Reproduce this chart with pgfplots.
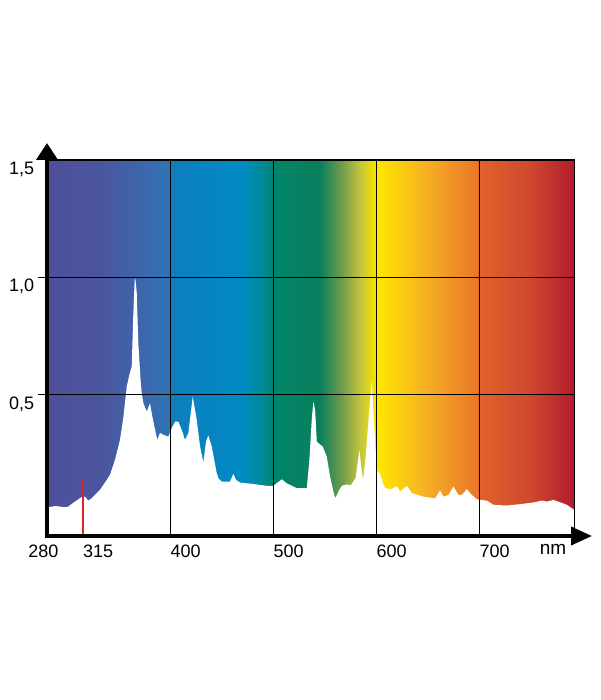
\documentclass[border=0pt]{standalone}
\usepackage{pgfplots}
\pgfplotsset{compat=1.18}
\usepackage{fontspec}
\setmainfont{Liberation Sans}
\usetikzlibrary{arrows.meta}

\definecolor{s0}{RGB}{79,79,156}
\definecolor{s1}{RGB}{75,85,158}
\definecolor{s2}{RGB}{58,106,174}
\definecolor{s3}{RGB}{46,116,179}
\definecolor{s4}{RGB}{13,127,191}
\definecolor{s5}{RGB}{0,138,196}
\definecolor{s6}{RGB}{0,137,150}
\definecolor{s7}{RGB}{0,132,106}
\definecolor{s8}{RGB}{9,127,92}
\definecolor{s9}{RGB}{106,154,78}
\definecolor{s10}{RGB}{195,196,63}
\definecolor{s11}{RGB}{244,224,0}
\definecolor{s12}{RGB}{255,230,0}
\definecolor{s13}{RGB}{246,183,33}
\definecolor{s14}{RGB}{238,138,40}
\definecolor{s15}{RGB}{234,120,40}
\definecolor{s15b}{RGB}{224,98,42}
\definecolor{s16}{RGB}{207,72,48}
\definecolor{s17}{RGB}{178,28,44}
\definecolor{redline}{RGB}{215,38,46}

\pgfdeclarehorizontalshading{spectrum}{100bp}{color(0bp)=(s0); color(25bp)=(s0);
 color(30.03bp)=(s1); color(34.77bp)=(s2); color(36.48bp)=(s3); color(37.11bp)=(s4);
 color(43.32bp)=(s5); color(45.41bp)=(s6); color(46.64bp)=(s7); color(50.88bp)=(s8);
 color(52.83bp)=(s9); color(54.69bp)=(s10); color(56.05bp)=(s11); color(56.41bp)=(s12);
 color(60.40bp)=(s13); color(64.16bp)=(s14); color(65.75bp)=(s15); color(66.05bp)=(s15b);
 color(70.84bp)=(s16); color(75bp)=(s17); color(100bp)=(s17)}

\begin{document}
\begin{tikzpicture}
\path (0,0) rectangle (600pt,700pt);
\begin{axis}[
  at={(47pt,164pt)}, anchor=south west,
  width=527pt, height=376pt, scale only axis,
  xmin=280, xmax=792, ymin=-0.105, ymax=1.5,
  clip=false, axis on top,
  axis line style={line width=1pt, black},
  xtick={315,400,500,600,700},
  xticklabels={315,400,500,600,700},
  extra x ticks={280}, extra x tick labels={280},
  extra x tick style={xmajorgrids=false, xticklabel style={anchor=north, xshift=-3.7pt}},
  minor xtick={400,500,600,700},
  xminorgrids=true, xmajorgrids=false,
  ytick={0.5,1,1.5}, yticklabels={{0,5},{1,0},{1,5}},
  ymajorgrids=true,
  grid style={line width=1.1pt, black},
  minor grid style={line width=1.1pt, black},
  major tick length=8.7pt, minor tick length=0pt, tick align=outside,
  xtick style={draw=none},
  ytick style={line width=1pt, black},
  xtick pos=bottom, ytick pos=left,
  xticklabel style={font=\fontsize{18}{21}\selectfont, anchor=north west, inner sep=0pt, yshift=0pt},
  yticklabel style={font=\fontsize{18}{21}\selectfont, anchor=north east, inner sep=0pt, xshift=-4pt, yshift=-2pt},
]
\shade[shading=spectrum] (axis cs:280,-0.105) rectangle (axis cs:792,1.5);
\addplot[fill=white, draw=none] coordinates {
(280,-0.105) (280,0.016) (287.8,0.023) (297.5,0.018) (300.4,0.020) (307.2,0.042)
(313.7,0.061) (316.9,0.063) (320.1,0.046) (323.4,0.056) (331.5,0.092) (338.0,0.134)
(341.2,0.156) (346.1,0.220) (350.9,0.305) (354.1,0.399) (356.8,0.504) (357.5,0.533)
(360.0,0.583) (362.3,0.618) (363.9,0.847) (365.2,0.988) (365.8,0.995) (367.2,0.933)
(368.7,0.719) (371.1,0.548) (372.0,0.506) (373.6,0.463) (376.9,0.426) (380.1,0.462)
(381.7,0.420) (385.0,0.348) (387.2,0.305) (389.8,0.335) (393.0,0.327) (397.9,0.319)
(401.2,0.355) (404.4,0.383) (407.6,0.383) (410.9,0.348) (414.1,0.305) (417.3,0.334)
(421.6,0.490) (425.5,0.390) (428.7,0.277) (431.9,0.209) (434.5,0.298) (436.7,0.324)
(440.0,0.277) (444.9,0.163) (446.5,0.142) (449.8,0.127) (457.8,0.127) (461.1,0.160)
(463.7,0.134) (467.6,0.123) (480.5,0.117) (493.5,0.109) (499.9,0.109) (508.1,0.137)
(512.9,0.120) (522.7,0.099) (532.4,0.099) (534.9,0.220) (537.2,0.391) (538.8,0.469)
(540.5,0.433) (542.1,0.298) (544.6,0.288) (547.9,0.277) (551.8,0.234) (555.0,0.149)
(558.2,0.085) (560.2,0.056) (563.1,0.085) (566.4,0.109) (571.3,0.115) (574.9,0.111)
(579.8,0.141) (583.5,0.262) (585.6,0.177) (587.1,0.134) (589.5,0.228) (592.2,0.382)
(594.6,0.519) (595.6,0.557) (597.1,0.433) (598.8,0.292) (600.7,0.173) (603.6,0.160)
(606.2,0.122) (608.5,0.100) (611.7,0.096) (615.0,0.096) (619.8,0.107) (623.1,0.085)
(629.6,0.109) (634.4,0.078) (645.7,0.063) (657.1,0.056) (661.9,0.089) (665.1,0.063)
(670.0,0.070) (674.9,0.106) (679.7,0.070) (683.0,0.070) (687.9,0.095) (692.7,0.070)
(697.6,0.052) (700.8,0.049) (707.3,0.046) (713.7,0.028) (726.7,0.025) (739.7,0.031)
(752.6,0.038) (760.8,0.046) (765.6,0.042) (772.1,0.049) (778.5,0.039) (785.1,0.028)
(791.5,0.009) (792,0.005) (792,-0.105)
} -- cycle;
\addplot[draw=redline, line width=2pt] coordinates {(315,-0.105) (315,0.134)};
\draw[line width=3.8pt, {Triangle[length=17pt,width=21pt]}-{Triangle[length=21pt,width=18pt]}]
  ([yshift=17pt]rel axis cs:0,1) -- (rel axis cs:0,0) -- ([xshift=18pt]rel axis cs:1,0);
\node[font=\fontsize{19}{22}\selectfont, anchor=base] at ([xshift=-21pt, yshift=-18.3pt]rel axis cs:1,0) {nm};
\end{axis}
\end{tikzpicture}
\end{document}
